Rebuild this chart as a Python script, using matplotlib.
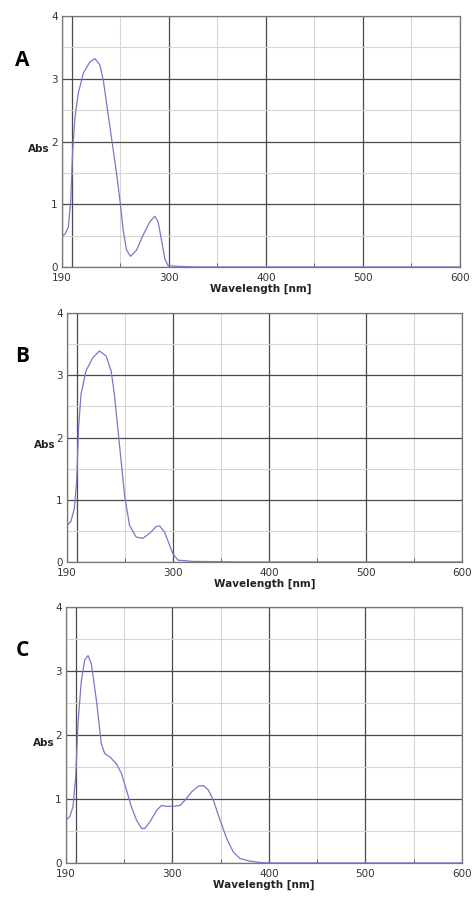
import numpy as np
import matplotlib
matplotlib.use("Agg")
from matplotlib import pyplot as plt
from matplotlib.ticker import MultipleLocator

# spectra: wavelength [nm], absorbance
wl_a = [190, 193.2, 196.6, 199, 201, 203.4, 206.8, 212, 218.8, 224, 229, 232.5,
        239.4, 246.2, 249.7, 253, 256.5, 260.6, 266.8, 273.6, 280.5, 285.6, 289,
        292.5, 296, 299.3, 310, 330, 600]
abs_a = [0.48, 0.53, 0.64, 1.06, 1.86, 2.39, 2.77, 3.09, 3.27, 3.32, 3.22, 2.98,
         2.23, 1.49, 1.06, 0.59, 0.27, 0.17, 0.27, 0.51, 0.72, 0.81, 0.72,
         0.43, 0.13, 0.02, 0.01, 0.0, 0.0]

wl_b = [190, 194, 197.6, 200, 202, 204.5, 209.7, 216.7, 223.6, 230.6, 235.8,
        239.2, 242.7, 246.2, 249.7, 254.9, 261.8, 268.8, 275.7, 282.6, 286.1,
        291.3, 296.5, 300, 305.2, 320, 350, 370, 600]
abs_b = [0.59, 0.65, 0.86, 1.29, 2.15, 2.69, 3.07, 3.28, 3.39, 3.31, 3.07,
         2.69, 2.15, 1.62, 1.08, 0.59, 0.40, 0.38, 0.46, 0.57, 0.58,
         0.48, 0.27, 0.13, 0.03, 0.01, 0.005, 0.0, 0.0]

wl_c = [190, 193.8, 197.2, 200, 202.4, 205.9, 209.3, 212.8, 216.3, 221.5, 226.6,
        230.1, 235.3, 242.2, 247.4, 252.6, 257.8, 263, 268.2, 271.6, 276.8,
        283.7, 288.9, 294.1, 301, 308, 313.1, 320, 327, 332.2, 337.4, 342.6,
        349.5, 356.4, 363.3, 370.2, 380, 390, 400, 600]
abs_c = [0.67, 0.72, 0.875, 1.34, 2.18, 2.85, 3.17, 3.24, 3.11, 2.54, 1.86,
         1.71, 1.66, 1.55, 1.40, 1.14, 0.875, 0.67, 0.54, 0.54, 0.64,
         0.82, 0.90, 0.885, 0.885, 0.90, 0.98, 1.11, 1.20, 1.21, 1.14, 0.98,
         0.67, 0.38, 0.17, 0.07, 0.03, 0.01, 0.0, 0.0]

panels = ["A", "B", "C"]
series = [(wl_a, abs_a), (wl_b, abs_b), (wl_c, abs_c)]
x_ticks = [190, 200, 300, 400, 500, 600]
x_labels = ["190", "", "300", "400", "500", "600"]

# axes boxes in pixels: left, right, top, bottom
boxes = [(62, 460, 16, 267), (67, 462, 313, 562), (66, 462, 607, 863)]
W, H = 472, 898

fig = plt.figure(figsize=(W / 100, H / 100), dpi=100)
line_col = "#7878c8"

for name, (wl, ab), (l, r, t, b) in zip(panels, series, boxes):
    ax = fig.add_axes([l / W, 1 - b / H, (r - l) / W, (b - t) / H])
    ax.plot(wl, ab, color=line_col, lw=0.9, zorder=3)
    ax.set_xlim(190, 600)
    ax.set_ylim(0, 4)
    ax.set_xticks(x_ticks, labels=x_labels)
    ax.xaxis.set_minor_locator(MultipleLocator(50))
    ax.yaxis.set_major_locator(MultipleLocator(1))
    ax.yaxis.set_minor_locator(MultipleLocator(0.5))
    ax.grid(which="major", color="#4a4a4a", lw=0.9)
    ax.grid(which="minor", color="#d6d6d6", lw=0.8)
    ax.tick_params(which="both", direction="in", length=3, color="#555555",
                   labelsize=7.5, labelcolor="#333333")
    ax.tick_params(axis="x", pad=4)
    ax.tick_params(axis="y", which="both", length=0, pad=3)
    for s in ax.spines.values():
        s.set_color("#777777")
        s.set_linewidth(0.9)
    ax.set_xlabel("Wavelength [nm]", fontsize=7.5, fontweight="bold",
                  color="#222222", labelpad=1)
    ax.text(-0.03, 0.47, "Abs", transform=ax.transAxes, ha="right", va="center",
            fontsize=7.5, fontweight="bold", color="#222222")
    fig.text(22 / W, 1 - (t + 44) / H, name, ha="center", va="center",
             fontsize=15, fontweight="bold", family="Open Sans")

fig.savefig("out.png", dpi=100)
